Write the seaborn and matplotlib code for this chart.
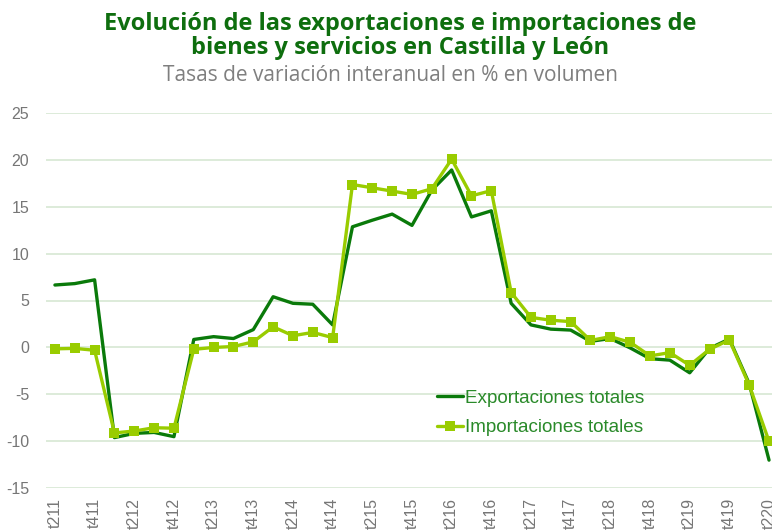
import numpy as np
import pandas as pd
import seaborn as sns
import matplotlib.pyplot as plt

# quarters 2t11 .. 2t20, labels shown every other quarter
quarters = ["t211", "t311", "t411", "t112",
            "t212", "t312", "t412", "t113",
            "t213", "t313", "t413", "t114",
            "t214", "t314", "t414", "t115",
            "t215", "t315", "t415", "t116",
            "t216", "t316", "t416", "t117",
            "t217", "t317", "t417", "t118",
            "t218", "t318", "t418", "t119",
            "t219", "t319", "t419", "t120",
            "t220"]

exportaciones = [6.65, 6.8, 7.2, -9.6, -9.15, -9.05, -9.5, 0.85, 1.15, 0.95,
                 1.9, 5.4, 4.7, 4.6, 2.4, 12.85, 13.55, 14.2, 13.0, 16.75,
                 18.9, 13.9, 14.55, 4.7, 2.4, 1.95, 1.85, 0.65, 0.95, -0.05,
                 -1.2, -1.35, -2.7, -0.1, 0.9, -3.85, -12.0]

importaciones = [-0.15, -0.1, -0.3, -9.1, -8.9, -8.55, -8.6, -0.2, 0.0, 0.1,
                 0.6, 2.2, 1.25, 1.6, 1.05, 17.35, 17.0, 16.65, 16.3, 16.9,
                 20.05, 16.15, 16.7, 5.85, 3.2, 2.9, 2.75, 0.75, 1.15, 0.55,
                 -0.9, -0.55, -1.9, -0.2, 0.8, -4.0, -10.0]

y_ticks = [-15, -10, -5, 0, 5, 10, 15, 20, 25]

df = pd.DataFrame({"pos": np.arange(len(quarters)),
                   "Exportaciones totales": exportaciones,
                   "Importaciones totales": importaciones})

sns.set_style("white")
plt.rcParams["font.family"] = ["Liberation Sans", "DejaVu Sans"]

fig = plt.figure(figsize=(7.72, 5.32), dpi=100)
ax = fig.add_axes([46 / 772, 43.7 / 532, 726 / 772, 375.6 / 532])

dark = "#0a7a0a"
lime = "#99cc00"

sns.lineplot(data=df, x="pos", y="Exportaciones totales", ax=ax, color=dark,
             linewidth=2.4, label="Exportaciones totales")
sns.lineplot(data=df, x="pos", y="Importaciones totales", ax=ax, color=lime,
             linewidth=2.4, marker="s", markersize=7, markeredgewidth=0,
             label="Importaciones totales")

ax.set_xlim(-0.45, 36.15)
ax.set_ylim(-15, 25)
ax.set_yticks(y_ticks)
ax.set_yticklabels([str(v) for v in y_ticks], fontsize=11.5, color="#767676")
ax.set_xticks(df["pos"][::2])
ax.set_xticklabels(quarters[::2], rotation=90, fontsize=11.5, color="#767676",
                   va="top")
ax.tick_params(axis="both", length=0)
ax.tick_params(axis="y", pad=12)
ax.tick_params(axis="x", pad=7)
ax.grid(axis="y", color="#d3e6cf", linewidth=1.1)
ax.set_axisbelow(True)
for s in ax.spines.values():
    s.set_visible(False)
ax.set_xlabel("")
ax.set_ylabel("")

leg = ax.legend(loc="upper left", bbox_to_anchor=(0.528, 0.283), frameon=False,
                fontsize=13.6, handlelength=1.4, handletextpad=0.1,
                labelspacing=0.65, borderaxespad=0)
for t in leg.get_texts():
    t.set_color("#2a8a2a")

fig.text(0.518, 0.955, "Evolución de las exportaciones e importaciones de",
         ha="center", va="center", fontsize=17, fontweight="bold",
         color="#0e6e0e", family="Open Sans")
fig.text(0.518, 0.909, "bienes y servicios en Castilla y León",
         ha="center", va="center", fontsize=17, fontweight="bold",
         color="#0e6e0e", family="Open Sans")
fig.text(0.506, 0.859, "Tasas de variación interanual en % en volumen",
         ha="center", va="center", fontsize=15, color="#7f7f7f",
         family="Open Sans")

fig.savefig("out.png", dpi=100)
